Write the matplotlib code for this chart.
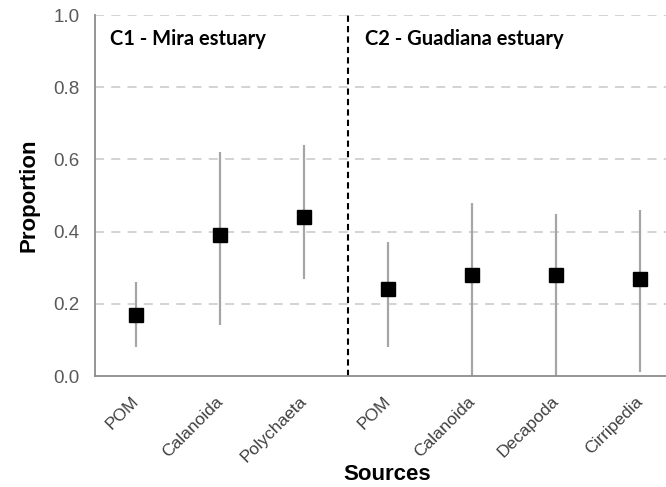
import matplotlib
matplotlib.use("Agg")
import matplotlib.pyplot as plt
import matplotlib.transforms as mtransforms
import numpy as np

categories = ["POM", "Calanoida", "Polychaeta", "POM", "Calanoida", "Decapoda", "Cirripedia"]
means = [0.17, 0.39, 0.44, 0.24, 0.28, 0.28, 0.27]
lower = [0.08, 0.14, 0.27, 0.08, 0.0, 0.0, 0.01]
upper = [0.26, 0.62, 0.64, 0.37, 0.48, 0.45, 0.46]
yticks = [0.0, 0.2, 0.4, 0.6, 0.8, 1.0]
group_labels = ["C1 - Mira estuary", "C2 - Guadiana estuary"]

fig = plt.figure(figsize=(6.66, 4.87), dpi=100)
ax = fig.add_axes([0.1426, 0.2279, 0.8574, 0.741])

x = np.arange(len(categories))
means_a = np.array(means)
yerr = np.vstack([means_a - np.array(lower), np.array(upper) - means_a])

for yv in yticks[1:]:
    ax.axhline(yv, color="#d0d0d0", lw=1.3, ls=(0, (5, 4)), zorder=0)

ax.errorbar(x, means, yerr=yerr, fmt="none", ecolor="#a6a6a6", elinewidth=1.6, capsize=0, zorder=2)
ax.plot(x, means, ls="none", marker="s", ms=10, color="black", zorder=3)

ax.axvline(2.52, color="black", lw=1.5, ls=(0, (3, 2)), zorder=1)

ax.set_xlim(-0.49, 6.31)
ax.set_ylim(0, 1.0)
ax.set_yticks(yticks)
ax.set_yticklabels([f"{v:.1f}" for v in yticks], color="#595959", fontsize=13.5, family="Liberation Sans")
ax.set_xticks(x)
ax.set_xticklabels(categories, rotation=45, ha="right", rotation_mode="anchor",
                   fontsize=12.5, color="#404040", family="Liberation Sans")
ax.tick_params(axis="y", length=0, pad=11)
ax.tick_params(axis="x", length=0, pad=7)
offset = mtransforms.ScaledTranslation(-5 / 100, -8 / 100, fig.dpi_scale_trans)
for lab in ax.get_xticklabels():
    lab.set_transform(lab.get_transform() + offset)

for s in ["top", "right"]:
    ax.spines[s].set_visible(False)
for s in ["left", "bottom"]:
    ax.spines[s].set_color("#8c8c8c")
    ax.spines[s].set_linewidth(1.3)

ax.set_ylabel("Proportion", fontsize=16, fontweight="bold", family="Liberation Sans")
ax.yaxis.set_label_coords(-0.097, 0.5)
ax.set_xlabel("Sources", fontsize=16, fontweight="bold", family="Liberation Sans")
ax.xaxis.set_label_coords(0.511, -0.243)

ax.text(-0.31, 0.917, group_labels[0], transform=ax.get_xaxis_transform(), ha="left", va="baseline",
        fontsize=14.5, fontweight="bold", family="Lato")
ax.text(2.73, 0.917, group_labels[1], transform=ax.get_xaxis_transform(), ha="left", va="baseline",
        fontsize=14.5, fontweight="bold", family="Lato")

fig.savefig("out.png", dpi=100)
